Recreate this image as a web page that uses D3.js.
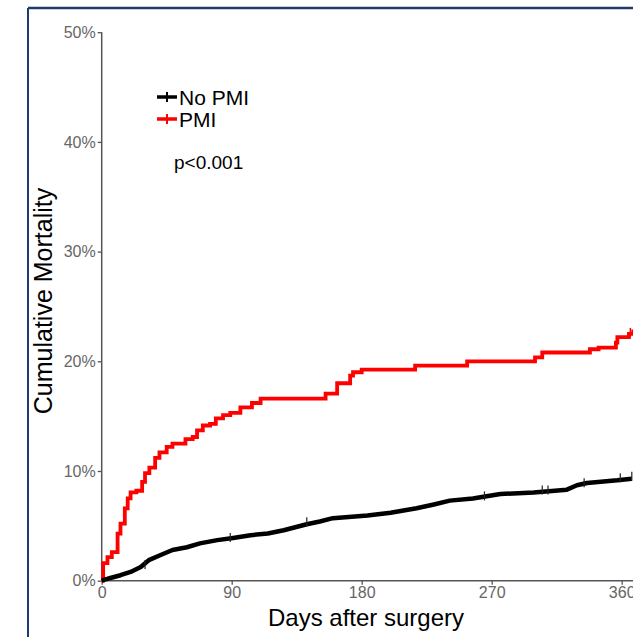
<!DOCTYPE html>
<html>
<head>
<meta charset="utf-8">
<script src="https://cdn.jsdelivr.net/npm/d3@7"></script>
<style>
  body { margin: 0; background: #fff; }
  svg { display: block; font-family: "Liberation Sans", Arial, sans-serif; }
</style>
</head>
<body>
<div id="chart"></div>
<script>
// Cumulative mortality (%)
const pmiDays = [0, 1, 4, 7, 11, 13, 16, 18, 20, 24, 28, 30, 33, 37, 40, 45, 49, 58, 63, 66, 70, 75, 79, 84, 89, 96, 104, 110, 155, 163, 172, 174, 180, 217, 253, 300, 305, 338, 344, 356, 357, 365, 368];
const pmiRisk = [0, 1.6, 2.15, 2.6, 4.3, 5.2, 6.6, 7.5, 8.05, 8.2, 9.0, 9.8, 10.3, 11.2, 11.7, 12.2, 12.5, 12.9, 13.1, 13.7, 14.15, 14.3, 14.8, 15.1, 15.3, 15.8, 16.2, 16.6, 17.05, 18.0, 18.7, 19.0, 19.25, 19.6, 20.0, 20.35, 20.8, 21.1, 21.25, 21.7, 22.2, 22.5, 22.9];

const noPmiDays = [0, 6, 13, 20, 27, 33, 40, 49, 59, 68, 80, 91, 103, 115, 126, 142, 151, 160, 184, 200, 218, 230, 241, 257, 276, 299, 322, 329, 336, 357, 367];
const noPmiRisk = [0, 0.25, 0.5, 0.8, 1.25, 1.9, 2.3, 2.8, 3.05, 3.4, 3.7, 3.9, 4.15, 4.3, 4.6, 5.15, 5.4, 5.7, 5.95, 6.2, 6.6, 6.95, 7.3, 7.5, 7.9, 8.05, 8.3, 8.7, 8.9, 9.15, 9.3];

// censored observations (days)
const noPmiCensor = [30, 89, 142, 265, 305, 309, 334, 359, 367];
const pmiCensor = [366];

const yTicks = [0, 10, 20, 30, 40, 50];
const xTicks = [0, 90, 180, 270, 360];

const width = 633,
  height = 637;

const svg = d3
  .select("#chart")
  .append("svg")
  .attr("width", width)
  .attr("height", height);

// frame of the figure panel
svg.append("line")
  .attr("x1", 28).attr("x2", width)
  .attr("y1", 8).attr("y2", 8)
  .attr("stroke", "#203a6b").attr("stroke-width", 2.5);
svg.append("line")
  .attr("x1", 28).attr("x2", 28)
  .attr("y1", 8).attr("y2", height)
  .attr("stroke", "#203a6b").attr("stroke-width", 2);

const x = d3.scaleLinear().domain([0, 360]).range([101.7, 621.7]);
const y = d3.scaleLinear().domain([0, 50]).range([580.7, 32.2]);

// axes
const yAxis = svg.append("g")
  .attr("transform", `translate(${x(0)},0)`)
  .call(d3.axisLeft(y).tickValues(yTicks).tickSize(4).tickPadding(2).tickFormat((d) => d + "%"));
const xAxis = svg.append("g")
  .attr("transform", `translate(0,${y(0)})`)
  .call(d3.axisBottom(x).tickValues(xTicks).tickSize(4).tickPadding(2));

xAxis.select(".domain").attr("d", `M${x(0)},0H${width}`);
yAxis.select(".domain").attr("d", `M0,${y(50)}V${y(0)}`);

[xAxis, yAxis].forEach((ax) => {
  ax.select(".domain").attr("stroke", "#555").attr("stroke-width", 1.5);
  ax.selectAll(".tick line").attr("stroke", "#555").attr("stroke-width", 1.3);
  ax.selectAll(".tick text")
    .attr("fill", "#666")
    .style("font-size", "16px")
    .style("font-family", "'Liberation Sans', Arial, sans-serif");
});

// curves
const pmiData = pmiDays.map((d, i) => ({ day: d, risk: pmiRisk[i] }));
const noPmiData = noPmiDays.map((d, i) => ({ day: d, risk: noPmiRisk[i] }));

const stepLine = d3.line()
  .x((d) => x(d.day))
  .y((d) => y(d.risk))
  .curve(d3.curveStepAfter);

const plainLine = d3.line()
  .x((d) => x(d.day))
  .y((d) => y(d.risk));

svg.append("path")
  .datum(pmiData)
  .attr("d", stepLine)
  .attr("fill", "none")
  .attr("stroke", "#ff0000")
  .attr("stroke-width", 3.8);

svg.append("path")
  .datum(noPmiData)
  .attr("d", plainLine)
  .attr("fill", "none")
  .attr("stroke", "#000")
  .attr("stroke-width", 4.5)
  .attr("stroke-linejoin", "round");

// censor marks
const riskAt = (days, risk, t) => risk[Math.max(0, d3.bisectRight(days, t) - 1)];
svg.selectAll(".censor-black")
  .data(noPmiCensor)
  .enter()
  .append("line")
  .attr("class", "censor-black")
  .attr("x1", (d) => x(d)).attr("x2", (d) => x(d))
  .attr("y1", (d) => y(riskAt(noPmiDays, noPmiRisk, d)) - 7)
  .attr("y2", (d) => y(riskAt(noPmiDays, noPmiRisk, d)) + 2)
  .attr("stroke", "#222")
  .attr("stroke-width", 1.2);
svg.selectAll(".censor-red")
  .data(pmiCensor)
  .enter()
  .append("line")
  .attr("class", "censor-red")
  .attr("x1", (d) => x(d)).attr("x2", (d) => x(d))
  .attr("y1", (d) => y(riskAt(pmiDays, pmiRisk, d)) - 6)
  .attr("y2", (d) => y(riskAt(pmiDays, pmiRisk, d)) + 3)
  .attr("stroke", "#ff0000")
  .attr("stroke-width", 1.5);

// legend
const legend = [
  { name: "No PMI", color: "#000", y: 97 },
  { name: "PMI", color: "#ff0000", y: 119 }
];
const lg = svg.selectAll(".legend")
  .data(legend)
  .enter()
  .append("g")
  .attr("class", "legend")
  .attr("transform", (d) => `translate(157,${d.y})`);
lg.append("line")
  .attr("x1", 0).attr("x2", 20)
  .attr("stroke", (d) => d.color)
  .attr("stroke-width", 3.5);
lg.append("line")
  .attr("x1", 10).attr("x2", 10)
  .attr("y1", -5).attr("y2", 5)
  .attr("stroke", (d) => d.color)
  .attr("stroke-width", 2);
lg.append("text")
  .attr("x", 22)
  .attr("y", 8)
  .style("font-size", "21px")
  .attr("fill", "#000")
  .text((d) => d.name);

svg.append("text")
  .attr("x", 174)
  .attr("y", 169)
  .style("font-size", "19px")
  .attr("fill", "#000")
  .text("p<0.001");

// axis titles
svg.append("text")
  .attr("transform", "translate(52,301) rotate(-90)")
  .attr("text-anchor", "middle")
  .style("font-size", "25px")
  .attr("fill", "#000")
  .text("Cumulative Mortality");

svg.append("text")
  .attr("x", 366)
  .attr("y", 626)
  .attr("text-anchor", "middle")
  .style("font-size", "24px")
  .attr("fill", "#000")
  .text("Days after surgery");
</script>
</body>
</html>
